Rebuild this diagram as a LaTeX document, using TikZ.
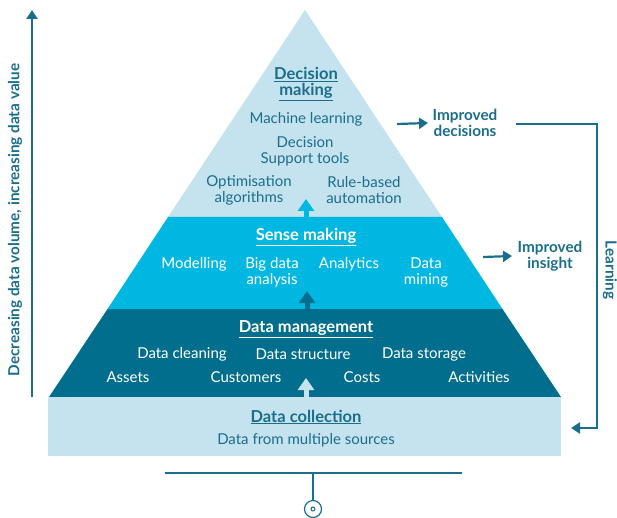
\documentclass[tikz,border=0pt]{standalone}
\usepackage{fontspec}
\setmainfont{Lato}
\usetikzlibrary{arrows.meta}
\definecolor{lightb}{HTML}{C5E3EE}
\definecolor{cyanb}{HTML}{00B7E2}
\definecolor{darkb}{HTML}{006E8C}
\definecolor{tealtx}{HTML}{1A6E8C}
\tikzset{
  txt/.style={font=\fontsize{15}{16}\selectfont, align=center, inner sep=0pt},
  lt/.style={txt, text=tealtx},
  wt/.style={txt, text=white},
  hd/.style={txt, font=\fontsize{16.5}{15.5}\selectfont\bfseries},
  sd/.style={txt, font=\fontsize{15.3}{16}\selectfont\bfseries, text=tealtx},
  flow/.style={draw=tealtx, line width=2.2pt, -{Triangle[length=9pt,width=11pt]}},
  uparrow/.style={line width=5pt, -{Triangle[length=12pt,width=16pt]}},
}
\begin{document}
\begin{tikzpicture}[x=1pt,y=-1pt]
\useasboundingbox (0,0) rectangle (617,518);
% layers
\fill[lightb] (305,10) -- (442,217) -- (168,217) -- cycle;
\fill[cyanb] (168,217) -- (442,217) -- (502.5,309) -- (107.5,309) -- cycle;
\fill[darkb] (107.5,309) -- (502.5,309) -- (561,397) -- (49,397) -- cycle;
\fill[lightb] (48,397) rectangle (561,456);
% central arrows
\coordinate (a1s) at (306,218); \coordinate (a1e) at (306,199);
\coordinate (a2s) at (307,310); \coordinate (a2e) at (307,291);
\coordinate (a3s) at (306,398); \coordinate (a3e) at (306,378);
\draw[uparrow, cyanb] (a1s) -- (a1e);
\draw[uparrow, darkb] (a2s) -- (a2e);
\draw[uparrow, lightb] (a3s) -- (a3e);
% top layer texts
\node[hd, text=tealtx] (dm) at (306,84) {\underline{Decision}\\\underline{making}};
\node[lt] (ml) at (306,119) {Machine learning};
\node[lt] (dst) at (305,151) {Decision\\Support tools};
\node[lt] (opt) at (249,190) {Optimisation\\algorithms};
\node[lt] (rba) at (364,190) {Rule-based\\automation};
% sense making
\node[hd, text=white] (sm) at (306,237) {\underline{Sense making}};
\node[wt] (mod) at (194,264) {Modelling};
\node[wt] (bda) at (272,272) {Big data\\analysis};
\node[wt] (ana) at (349,264) {Analytics};
\node[wt] (dmi) at (426,272) {Data\\mining};
% data management
\node[hd, text=white] (dmg) at (306,329) {\underline{Data management}};
\node[wt] (dcl) at (182,354) {Data cleaning};
\node[wt] (dsr) at (303,354) {Data structure};
\node[wt] (dso) at (424,354) {Data storage};
\node[wt] (ass) at (128,377) {Assets};
\node[wt] (cus) at (246,377) {Customers};
\node[wt] (cos) at (362,377) {Costs};
\node[wt] (act) at (479,377) {Activities};
% data collection
\node[hd, text=tealtx] (dc) at (306,417) {\underline{Data collection}};
\node[lt] (dfm) at (306,440) {Data from multiple sources};
% right side
\node[sd] (idec) at (465,123) {Improved\\decisions};
\node[sd] (iins) at (550,256) {Improved\\insight};
\coordinate (r1) at (397,124);
\coordinate (r2) at (483,257);
\draw[flow] (r1) -- (idec.west -| 428,0) ;
\draw[flow] (r2) -- (iins.west -| 512,0);
\coordinate (lstart) at (516,124);
\coordinate (lcorner) at (597,124);
\coordinate (lend) at (571,428);
\draw[flow] (lstart) -- (lcorner) |- (lend);
\node[sd, rotate=-90] (lrn) at (610,270) {Learning};
% left axis
\coordinate (ax0) at (32,397);
\coordinate (ax1) at (32,10);
\draw[flow] (ax0) -- (ax1);
\node[sd, rotate=90] (axl) at (15,220) {Decreasing data volume, increasing data value};
% bottom symbol
\coordinate (b1) at (165,473);
\coordinate (b2) at (462,473);
\coordinate (bm) at (313,473);
\node[draw=tealtx, line width=1.2pt, circle, minimum size=17pt, inner sep=0pt] (bc) at (313,509) {};
\draw[tealtx, line width=1.2pt] (b1) -- (b2);
\draw[tealtx, line width=1.2pt] (bm) -- (bc.north);
\node[draw=tealtx, line width=1pt, circle, minimum size=4pt, inner sep=0pt] (bd) at (bc.center) {};
\end{tikzpicture}
\end{document}
